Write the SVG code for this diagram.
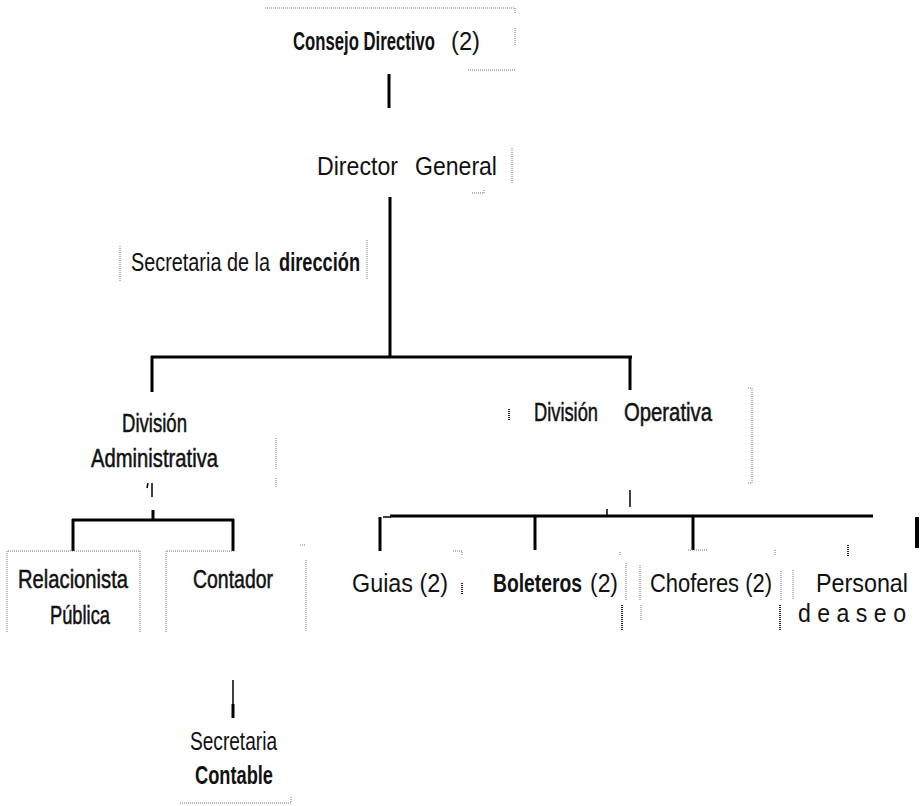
<svg xmlns="http://www.w3.org/2000/svg" width="923" height="806" viewBox="0 0 923 806">
<style>
text{font-family:"Liberation Sans",Arial,sans-serif;fill:#111}
.t{font-size:25px}
.b{font-weight:bold}
.m{stroke:#111;stroke-width:0.5}
.ln{stroke:#000;stroke-width:3;fill:none}
.thin{stroke:#000;stroke-width:1.5;fill:none}
.dot{stroke:#777;stroke-width:1;stroke-dasharray:1 1;fill:none}
.dk{stroke:#222;stroke-width:2;stroke-dasharray:1 1;fill:none}
</style>
<rect width="923" height="806" fill="#fff"/>
<g id="connectors">
<line class="ln" x1="389" y1="74" x2="389" y2="108"/>
<line class="ln" x1="390" y1="197" x2="390" y2="356"/>
<line class="ln" x1="151" y1="357" x2="632" y2="357"/>
<line class="ln" x1="152" y1="356" x2="152" y2="392"/>
<line class="ln" x1="630" y1="356" x2="630" y2="390"/>
<line class="thin" x1="152" y1="483" x2="152" y2="497"/>
<line class="thin" x1="148" y1="483" x2="147" y2="488"/>
<line class="ln" x1="72" y1="520" x2="234" y2="520"/>
<line class="ln" x1="153" y1="510" x2="153" y2="520"/>
<line class="ln" x1="73" y1="519" x2="73" y2="551"/>
<line class="ln" x1="233" y1="519" x2="233" y2="551"/>
<line class="thin" x1="630" y1="490" x2="630" y2="507"/>
<line class="ln" x1="390" y1="516" x2="873" y2="516"/>
<line class="ln" x1="380" y1="517" x2="380" y2="551"/>
<line class="thin" x1="383" y1="517" x2="391" y2="517"/>
<line class="ln" x1="535" y1="515" x2="535" y2="550"/>
<line class="ln" x1="693" y1="515" x2="693" y2="550"/>
<line class="thin" x1="607" y1="509" x2="607" y2="516"/>
<line x1="917" y1="517" x2="917" y2="548" stroke="#000" stroke-width="4"/>
<line class="thin" x1="233" y1="680" x2="233" y2="705"/>
<line class="ln" x1="233" y1="704" x2="233" y2="718"/>
</g>
<g id="consejo">
<path class="dot" d="M265 8H515V13"/>
<path class="dot" d="M515 28V46M468 70H515"/>
<text class="t b" transform="translate(293 50) scale(0.673 1)" textLength="211" lengthAdjust="spacingAndGlyphs">Consejo Directivo</text>
<text class="t" x="451" y="50" textLength="29" lengthAdjust="spacingAndGlyphs">(2)</text>
</g>
<g id="director">
<text class="t" y="175"><tspan x="317" textLength="81" lengthAdjust="spacingAndGlyphs">Director</tspan><tspan x="415" textLength="82" lengthAdjust="spacingAndGlyphs">General</tspan></text>
<path class="dot" d="M512 148V183M472 193H484V189"/>
</g>
<g id="secretaria-direccion">
<path class="dot" d="M120 246V282M367 240V280"/>
<text class="t" transform="translate(131 271) scale(0.794 1)" textLength="175" lengthAdjust="spacingAndGlyphs">Secretaria de la</text>
<text class="t b" transform="translate(279 271) scale(0.73 1)" textLength="111" lengthAdjust="spacingAndGlyphs">dirección</text>
</g>
<g id="division-administrativa">
<text class="t m" x="122" y="432" textLength="65" lengthAdjust="spacingAndGlyphs">División</text>
<text class="t m" x="91" y="467" textLength="127" lengthAdjust="spacingAndGlyphs">Administrativa</text>
<path class="dot" d="M276 438V470M276 478V488"/>
</g>
<g id="division-operativa">
<path class="dk" d="M509 409V420"/>
<text class="t m" y="421"><tspan x="534" textLength="64" lengthAdjust="spacingAndGlyphs">División</tspan><tspan x="624" textLength="88" lengthAdjust="spacingAndGlyphs">Operativa</tspan></text>
<path class="dot" d="M748 388H752V483H748"/>
</g>
<g id="relacionista">
<path class="dot" d="M7 632V551H140V632"/>
<text class="t m" x="18" y="588" textLength="110" lengthAdjust="spacingAndGlyphs">Relacionista</text>
<text class="t m" x="50" y="624" textLength="60" lengthAdjust="spacingAndGlyphs">Pública</text>
</g>
<g id="contador">
<path class="dot" d="M166 632V551H235"/>
<path class="dot" d="M306 560V632M300 545H306"/>
<text class="t m" x="193" y="588" textLength="80" lengthAdjust="spacingAndGlyphs">Contador</text>
</g>
<g id="secretaria-contable">
<text class="t" x="190" y="750" textLength="87" lengthAdjust="spacingAndGlyphs">Secretaria</text>
<text class="t b" x="195" y="784" textLength="78" lengthAdjust="spacingAndGlyphs">Contable</text>
<path class="dot" d="M180 803H291V797"/>
</g>
<g id="guias">
<text class="t" x="352" y="592" textLength="96" lengthAdjust="spacingAndGlyphs">Guias (2)</text>
<path class="dot" d="M453 551H462V556"/>
<path class="dk" d="M462 583V594"/>
</g>
<g id="boleteros">
<text class="t b" transform="translate(493 592) scale(0.77 1)" textLength="115.5" lengthAdjust="spacingAndGlyphs">Boleteros</text>
<text class="t" x="590" y="592" textLength="28" lengthAdjust="spacingAndGlyphs">(2)</text>
<path class="dot" d="M620 552V556M626 563V600M640 565V600M641 605V620"/>
<path class="dk" d="M622 605V630"/>
</g>
<g id="choferes">
<text class="t" x="650" y="592" textLength="122" lengthAdjust="spacingAndGlyphs">Choferes (2)</text>
<path class="dot" d="M688 550H708M775 550V556M781 571V600M793 570V600"/>
<path class="dk" d="M780 605V630"/>
</g>
<g id="personal">
<path class="dk" d="M848 545V556"/>
<text class="t" x="816" y="592" textLength="92" lengthAdjust="spacingAndGlyphs">Personal</text>
<text class="t" x="798" y="622" textLength="108" lengthAdjust="spacingAndGlyphs">d e a s e o</text>
</g>
</svg>
